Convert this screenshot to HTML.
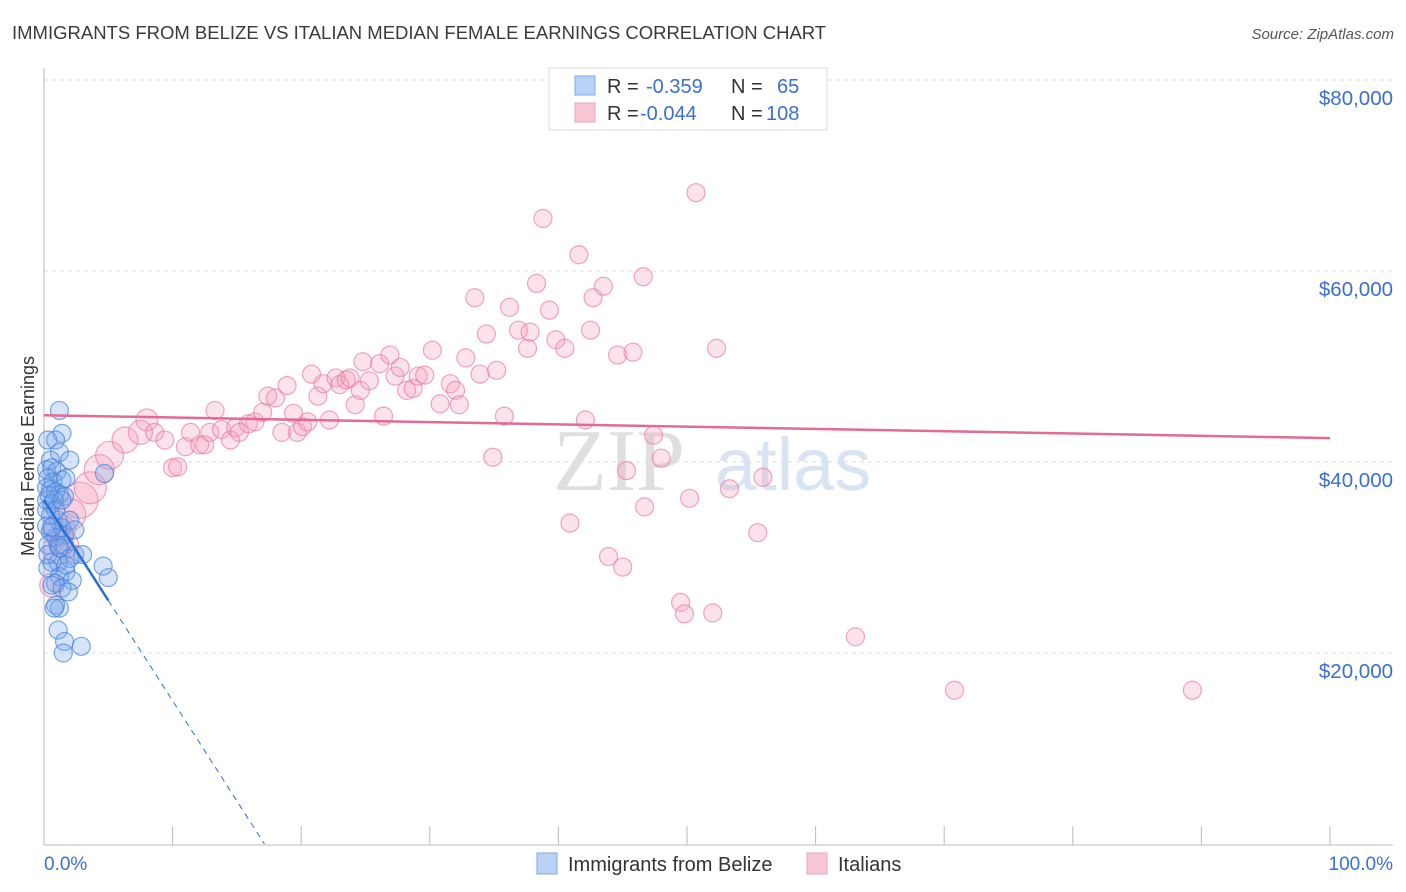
<!DOCTYPE html>
<html><head><meta charset="utf-8"><title>Immigrants from Belize vs Italian Median Female Earnings</title>
<style>
body{margin:0;background:#fff;font-family:"Liberation Sans",sans-serif;}
svg{display:block}
</style></head>
<body>
<svg id="chart" width="1406" height="892" viewBox="0 0 1406 892" xmlns="http://www.w3.org/2000/svg">
<text x="12" y="39" font-size="18.5" fill="#3a3a3a">IMMIGRANTS FROM BELIZE VS ITALIAN MEDIAN FEMALE EARNINGS CORRELATION CHART</text>
<text x="1394" y="39" font-size="15" fill="#555" font-style="italic" text-anchor="end">Source: ZipAtlas.com</text>
<g>
<text x="553" y="490" font-size="88" font-family="Liberation Serif,serif" fill="#d8d8d8" opacity="0.8">ZIP</text>
<text x="715" y="490" font-size="74" fill="#c8d8ee" opacity="0.7">atlas</text>
</g>
<g id="grid"></g>
<g id="axes"></g>
<g id="pink"></g>
<g id="blue"></g>
<g id="trends"></g>
<g>
<rect x="549" y="68" width="278" height="62" fill="#fff" stroke="#ddd"/>
<rect x="575" y="76" width="20" height="19" fill="#b9d1f5" stroke="#7fa9e8"/>
<rect x="575" y="103" width="20" height="19" fill="#f9c6d6" stroke="#eea3bc"/>
<text x="607" y="93" font-size="20" fill="#333">R =</text>
<text x="646" y="93" font-size="20" fill="#3b6fd0">-0.359</text>
<text x="731" y="93" font-size="20" fill="#333">N =</text>
<text x="777" y="93" font-size="20" fill="#3b6fd0">65</text>
<text x="607" y="120" font-size="20" fill="#333">R =</text>
<text x="640" y="120" font-size="20" fill="#3b6fd0">-0.044</text>
<text x="731" y="120" font-size="20" fill="#333">N =</text>
<text x="766" y="120" font-size="20" fill="#3b6fd0">108</text>
</g>
<g>
<rect x="537" y="853" width="20" height="21" fill="#b9d1f5" stroke="#7fa9e8"/>
<text x="568" y="871" font-size="20" fill="#333">Immigrants from Belize</text>
<rect x="807" y="853" width="20" height="21" fill="#f9c6d6" stroke="#eea3bc"/>
<text x="838" y="871" font-size="20" fill="#333">Italians</text>
</g>
</svg>
<script>
// x = share of immigrants from Belize (%), y = median female earnings ($k)
const pinkX=[0.6,1.0,1.2,1.6,2.0,2.8,3.6,4.3,5.1,6.3,7.5,8.0,8.6,9.4,10.0,10.4,11.0,11.4,12.1,12.5,12.9,13.3,13.8,14.5,14.9,15.2,15.9,16.4,17.0,17.4,18.0,18.5,18.9,19.4,19.7,20.1,20.5,20.8,21.3,21.7,22.2,22.7,23.0,23.5,23.8,24.2,24.6,24.8,25.3,26.1,26.4,26.9,27.3,27.7,28.2,28.7,29.1,29.6,30.2,30.8,31.6,32.0,32.3,32.8,33.5,33.9,34.4,35.2,35.8,34.9,36.2,36.9,37.6,37.8,38.3,38.8,39.3,39.8,40.5,40.9,41.6,42.1,42.5,42.7,43.5,43.9,44.6,45.0,45.3,45.8,46.6,46.7,47.4,48.0,49.5,49.8,50.2,50.7,52.0,52.3,53.3,55.5,55.9,63.1,70.8,89.3];
const pinkY=[27.1,30.8,32.9,31.3,34.5,36.0,37.3,39.2,40.7,42.3,43.1,44.4,43.1,42.3,39.4,39.5,41.6,43.1,41.8,41.8,43.1,45.4,43.4,42.3,43.6,43.1,44.0,44.2,45.2,46.9,46.7,43.1,48.0,45.1,43.1,43.7,44.2,49.2,46.9,48.2,44.4,48.8,48.1,48.6,48.8,46.0,47.5,50.5,48.5,50.3,44.8,51.2,49.0,49.9,47.5,47.7,49.0,49.1,51.7,46.1,48.2,47.5,46.0,50.9,57.2,49.2,53.4,49.6,44.8,40.5,56.2,53.8,51.9,53.6,58.7,65.5,55.9,52.8,51.9,33.6,61.7,44.4,53.8,57.2,58.4,30.1,51.2,29.0,39.1,51.5,59.4,35.3,42.8,40.4,25.3,24.1,36.2,68.2,24.2,51.9,37.2,32.6,38.4,21.7,16.1,16.1];
const pinkSize=[12,14,16,14,16,18,16,15,14,13,12,11];
const blueX=[1.2,1.4,0.3,0.9,1.2,0.5,2.0,0.2,0.6,1.0,0.3,0.7,1.4,1.7,0.2,0.5,0.9,1.2,1.6,0.2,0.6,4.7,1.1,1.4,0.5,0.9,1.6,0.3,1.1,1.6,2.4,3.0,2.0,0.6,1.1,0.3,1.7,1.2,2.2,0.9,5.0,4.6,0.6,1.4,1.9,0.9,1.2,0.8,1.1,1.6,2.9,1.5,0.3,0.2,0.5,0.8,2.0,1.7,1.2,0.2,0.6,0.4,0.9,1.4,2.4];
const blueY=[45.4,43.0,42.3,42.3,41.0,40.2,40.2,39.2,39.4,39.0,38.3,37.9,38.1,38.3,37.3,37.1,36.9,36.6,36.4,36.0,35.6,38.8,33.9,33.1,32.7,32.1,32.4,31.3,31.3,31.3,30.3,30.3,29.9,29.5,29.5,28.9,28.5,28.0,27.6,27.3,27.9,29.1,27.1,26.8,26.4,25.0,24.7,24.7,22.4,21.2,20.7,20.0,30.3,35.0,34.4,36.0,33.9,29.2,31.0,33.3,33.2,36.5,35.0,36.0,32.9];
const yTicks=[20,40,60,80];
const yTickLabels=["$20,000","$40,000","$60,000","$80,000"];
const pinkFit=[44.9,42.5]; // value at 0% and 100%
const blueFit=[36.0,-2.1]; // intercept, slope per %
const blueSolidEnd=5.0;

const NS="http://www.w3.org/2000/svg";
const X=v=>44+v*12.86;
const Y=v=>844-v*9.55;
function mk(tag,attrs,parent){const e=document.createElementNS(NS,tag);for(const k in attrs)e.setAttribute(k,attrs[k]);parent.appendChild(e);return e;}
const grid=document.getElementById('grid'),axes=document.getElementById('axes');
yTicks.forEach((t,i)=>{
  const l=mk('line',{x1:44,x2:1393,y1:Y(t),y2:Y(t),stroke:'#ddd','stroke-dasharray':'4,4'},grid);
  
  
  const tx=mk('text',{x:1393,y:Y(t)+25,'font-size':20.5,fill:'#3b6fd0','text-anchor':'end'},axes);
  tx.textContent=yTickLabels[i];
  
  
});
mk('line',{x1:44,x2:44,y1:68,y2:845,stroke:'#bbb'},axes);
mk('line',{x1:44,x2:1393,y1:845,y2:845,stroke:'#bbb'},axes);
for(let i=0;i<=10;i++){const t=mk('line',{x1:X(i*10),x2:X(i*10),y1:826,y2:845,stroke:'#bbb'},axes);
  
  }
let t0=mk('text',{x:44,y:870,'font-size':19,fill:'#3b6fd0'},axes);t0.textContent='0.0%';


let t1=mk('text',{x:1393,y:870,'font-size':19,fill:'#3b6fd0','text-anchor':'end'},axes);t1.textContent='100.0%';


let yt=mk('text',{transform:'translate(34,456) rotate(-90)','font-size':18,fill:'#333','text-anchor':'middle'},axes);yt.textContent='Median Female Earnings';



const pg=document.getElementById('pink');
pinkX.forEach((x,i)=>{const c=mk('circle',{cx:X(x),cy:Y(pinkY[i]),r:pinkSize[i]||9,fill:'rgba(244,160,188,0.3)',stroke:'rgba(230,120,158,0.65)','stroke-width':1.2},pg);
  
  });
const bg=document.getElementById('blue');
blueX.forEach((x,i)=>{const c=mk('circle',{cx:X(x),cy:Y(blueY[i]),r:9,fill:'rgba(120,165,235,0.3)',stroke:'rgba(70,130,220,0.7)','stroke-width':1.2},bg);
  
  });
const tg=document.getElementById('trends');
const pl=mk('line',{x1:X(0),y1:Y(pinkFit[0]),x2:X(100),y2:Y(pinkFit[1]),stroke:'#e36a93','stroke-width':2.5},tg);


const bY=x=>blueFit[0]+blueFit[1]*x;
const bl=mk('line',{x1:X(0),y1:Y(bY(0)),x2:X(blueSolidEnd),y2:Y(bY(blueSolidEnd)),stroke:'#2a6fd6','stroke-width':2.5},tg);


const xz=-blueFit[0]/blueFit[1];
const bd=mk('line',{x1:X(blueSolidEnd),y1:Y(bY(blueSolidEnd)),x2:X(xz),y2:Y(0),stroke:'#2a6fd6','stroke-width':1,'stroke-dasharray':'6,5'},tg);


</script>
</body></html>
